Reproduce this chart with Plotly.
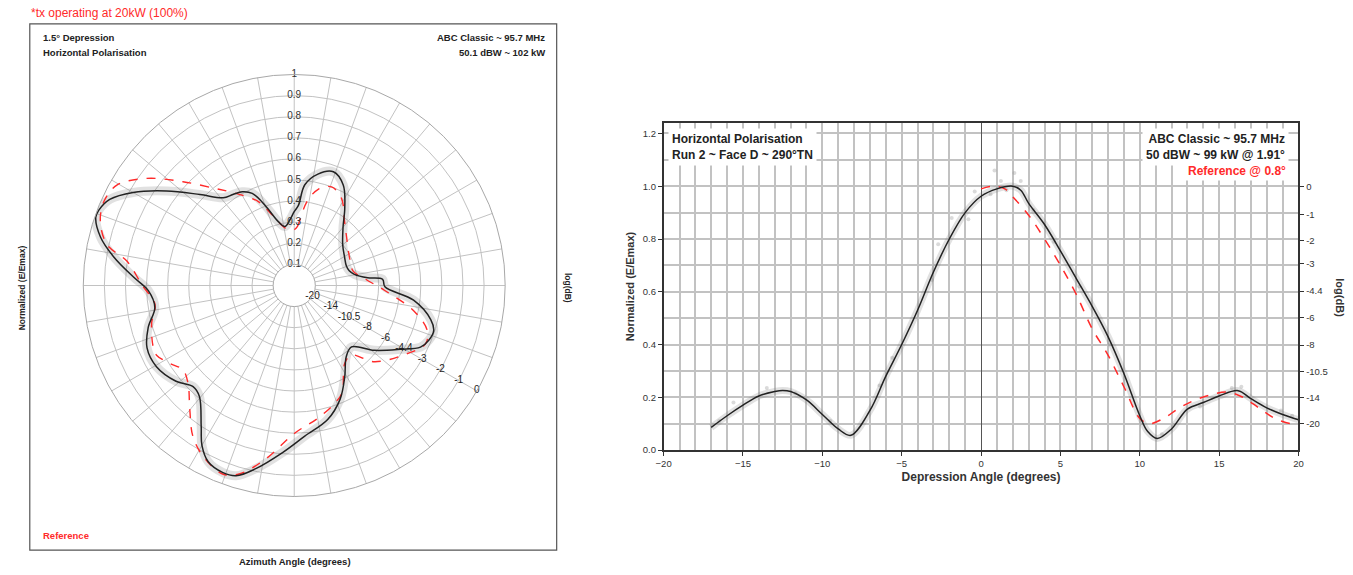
import plotly.graph_objects as go

# ---------------- Azimuth pattern (polar) ----------------
az_meas_theta = [0, 3, 6, 12, 19, 26, 33, 40, 50, 60, 69.5, 75, 79.5, 84, 86, 90.8, 97, 104, 108, 112,
                 116, 121, 129, 137, 144, 151, 158, 166, 176, 184, 192, 197, 201, 206, 210, 213.5,
                 220.5, 225, 231, 239.5, 247, 254, 261, 268, 273, 279, 284, 289, 291, 295, 300,
                 306.5, 314, 321, 326, 331, 335.5, 340, 346, 351, 356]
az_meas_r = [0.35, 0.38, 0.48, 0.54, 0.57, 0.53, 0.44, 0.36, 0.30, 0.275, 0.264, 0.27, 0.29, 0.35, 0.42, 0.43,
             0.57, 0.667, 0.695, 0.689, 0.666, 0.587, 0.488, 0.398, 0.419, 0.494, 0.581, 0.655, 0.716,
             0.794, 0.889, 0.943, 0.949, 0.930, 0.875, 0.799, 0.692, 0.678, 0.721, 0.758, 0.758, 0.72,
             0.669, 0.692, 0.763, 0.866, 0.946, 0.995, 0.993, 0.965, 0.882, 0.753, 0.621, 0.535, 0.52,
             0.508, 0.480, 0.405, 0.312, 0.283, 0.31]

az_ref_theta = [0, 3, 8.5, 14, 20.7, 28.5, 38, 48, 63, 76, 85, 93, 102, 108.6, 114, 121, 133.5, 140.6,
                147, 156, 161, 170, 179.6, 189.4, 196.3, 200.8, 208.2, 214, 220, 227.4, 232.8, 238,
                243, 246.5, 255, 262.4, 270, 278.3, 282.3, 288.3, 293.8, 299.5, 306, 313, 321, 327.6,
                337, 342.6, 351, 356]
az_ref_r = [0.265, 0.28, 0.40, 0.47, 0.50, 0.47, 0.387, 0.335, 0.294, 0.287, 0.34, 0.428, 0.58, 0.665,
            0.681, 0.626, 0.525, 0.427, 0.44, 0.557, 0.59, 0.64, 0.698, 0.834, 0.931, 0.956, 0.917,
            0.86, 0.77, 0.684, 0.662, 0.696, 0.731, 0.729, 0.70, 0.666, 0.72, 0.802, 0.908, 0.968,
            0.986, 0.966, 0.864, 0.721, 0.591, 0.517, 0.431, 0.351, 0.276, 0.265]

ring_values = [0.1, 0.2, 0.3, 0.4, 0.5, 0.6, 0.7, 0.8, 0.9, 1.0]
ring_labels = ["0.1", "0.2", "0.3", "0.4", "0.5", "0.6", "0.7", "0.8", "0.9", "1"]
ring_db_labels = ["-20", "-14", "-10.5", "-8", "-6", "-4.4", "-3", "-2", "-1", "0"]

# ---------------- Elevation pattern (cartesian) ----------------
el_meas_deg = [-17, -16, -15, -14, -13, -12.5, -12, -11, -10, -9, -8.2, -7, -6, -5, -4, -3, -2, -1, 0,
               1, 2, 2.5, 3, 4, 5, 6, 7, 8, 9, 10, 10.5, 11.1, 12, 13, 14, 15, 16.2, 17, 18, 19, 20]
el_meas_val = [0.086, 0.13, 0.17, 0.205, 0.222, 0.226, 0.222, 0.19, 0.135, 0.08, 0.056, 0.15, 0.28,
               0.40, 0.53, 0.675, 0.80, 0.90, 0.962, 0.99, 1.0, 0.985, 0.935, 0.855, 0.755, 0.65,
               0.545, 0.43, 0.29, 0.13, 0.07, 0.044, 0.08, 0.155, 0.18, 0.205, 0.225, 0.195, 0.16,
               0.135, 0.115]

el_ref_deg = [0, 0.8, 1.5, 2, 3, 4, 5, 6, 7, 8, 9, 10, 10.6, 11.5, 12.5, 13.5, 14.5, 15.5, 16.5, 17.5,
              18.5, 19.5, 20]
el_ref_val = [0.99, 1.0, 0.99, 0.96, 0.89, 0.80, 0.70, 0.59, 0.46, 0.36, 0.24, 0.12, 0.10, 0.12,
              0.16, 0.19, 0.21, 0.22, 0.20, 0.16, 0.12, 0.10, 0.10]

el_samples_deg = [0.85, 2.1, 2.5, 1.25, -1.85, -0.8, -2.7, -3.1, 0.6, -0.4, 1.6, 3.3, 4.6, 6.2, 8.1,
                  -5.6, -6.4, -9.5, -13.5, -15.6, -11.7, 11.4, 13.8, 15.8, 16.4, 18.9, 19.6, -16.5]
el_samples_val = [1.06, 1.05, 1.02, 1.02, 0.88, 0.875, 0.78, 0.645, 0.97, 0.98, 0.985, 0.91, 0.79,
                  0.62, 0.40, 0.35, 0.245, 0.11, 0.235, 0.18, 0.215, 0.06, 0.165, 0.235, 0.24, 0.15,
                  0.13, 0.11]

db_ticks = [0, -1, -2, -3, -4.4, -6, -8, -10.5, -14, -20]
db_tick_text = ["0", "-1", "-2", "-3", "-4.4", "-6", "-8", "-10.5", "-14", "-20"]

W, H = 1353, 575
FONT = "Liberation Sans"
GRID = "#c2c2c2"
RED = "#ff2a2a"
INK = "#222222"


def px(x):
    return x / W


def py(y):
    return 1 - y / H


def closed(seq, offset=0):
    return list(seq) + [seq[0] + offset]


fig = go.Figure()

# haze of measured samples under the azimuth trace
fig.add_trace(go.Scatterpolar(
    r=closed(az_meas_r), theta=closed(az_meas_theta, 360), mode="lines",
    line=dict(color="rgba(120,120,120,0.22)", width=9, shape="spline"),
    hoverinfo="skip", showlegend=False, subplot="polar"))
fig.add_trace(go.Scatterpolar(
    r=closed(az_ref_r), theta=closed(az_ref_theta, 360), mode="lines",
    line=dict(color=RED, width=1.4, dash="dash", shape="spline"),
    showlegend=False, subplot="polar"))
fig.add_trace(go.Scatterpolar(
    r=closed(az_meas_r), theta=closed(az_meas_theta, 360), mode="lines",
    line=dict(color=INK, width=1.5, shape="spline"),
    showlegend=False, subplot="polar"))
# ring labels along north and the dB equivalents along 120 deg
fig.add_trace(go.Scatterpolar(
    r=ring_values, theta=[0] * len(ring_values), mode="text", text=ring_labels,
    textfont=dict(family=FONT, size=10, color="#333"), showlegend=False, subplot="polar"))
fig.add_trace(go.Scatterpolar(
    r=ring_values, theta=[120] * len(ring_values), mode="text", text=ring_db_labels,
    textfont=dict(family=FONT, size=10, color="#222"), showlegend=False, subplot="polar"))

# ---------------- elevation traces ----------------
fig.add_trace(go.Scatter(
    x=el_samples_deg, y=el_samples_val, mode="markers",
    marker=dict(color="rgba(150,150,150,0.35)", size=4),
    hoverinfo="skip", showlegend=False, xaxis="x", yaxis="y"))
fig.add_trace(go.Scatter(
    x=el_meas_deg, y=el_meas_val, mode="lines",
    line=dict(color="rgba(120,120,120,0.22)", width=7, shape="spline"),
    hoverinfo="skip", showlegend=False, xaxis="x", yaxis="y"))
fig.add_trace(go.Scatter(
    x=el_ref_deg, y=el_ref_val, mode="lines",
    line=dict(color=RED, width=1.5, dash="dash", shape="spline"),
    showlegend=False, xaxis="x", yaxis="y"))
fig.add_trace(go.Scatter(
    x=el_meas_deg, y=el_meas_val, mode="lines",
    line=dict(color=INK, width=1.5, shape="spline"),
    showlegend=False, xaxis="x", yaxis="y"))
# invisible trace that activates the dB axis on the right
fig.add_trace(go.Scatter(x=[-20], y=[0], mode="markers", marker=dict(opacity=0),
                         hoverinfo="skip", showlegend=False, xaxis="x", yaxis="y2"))

db_positions = [10 ** (d / 20) for d in db_ticks]
tickfont = dict(family=FONT, size=9.5, color="#333")

fig.update_layout(
    width=W, height=H,
    margin=dict(l=0, r=0, t=0, b=0),
    paper_bgcolor="white", plot_bgcolor="white",
    font=dict(family=FONT, color=INK),
    polar=dict(
        domain=dict(x=[px(76), px(502)], y=[py(501), py(75)]),
        hole=0.1,
        bgcolor="white",
        angularaxis=dict(direction="clockwise", rotation=90, tickmode="array",
                         tickvals=list(range(0, 360, 10)), showticklabels=False, ticks="",
                         gridcolor=GRID, gridwidth=1, linecolor="#a8a8a8", linewidth=1),
        radialaxis=dict(range=[0.1, 1.0], tickmode="array", tickvals=ring_values,
                        showticklabels=False, ticks="", showline=False,
                        gridcolor=GRID, gridwidth=1),
    ),
    xaxis=dict(domain=[px(662), px(1303)], range=[-20, 20], tickmode="linear", tick0=-20, dtick=5,
               showgrid=True, gridcolor=GRID, gridwidth=1.5,
               minor=dict(dtick=1, showgrid=True, gridcolor=GRID, gridwidth=1.5),
               zeroline=True, zerolinecolor="#555", zerolinewidth=1,
               showline=True, linecolor="#333", linewidth=1.5, mirror=True,
               ticks="outside", ticklen=4, tickcolor="#333", tickfont=tickfont,
               title=dict(text="<b>Depression Angle (degrees)</b>", font=dict(size=12, color="#333"),
                          standoff=4)),
    yaxis=dict(domain=[py(454), py(124)], range=[0, 1.24], tickmode="linear", tick0=0, dtick=0.2,
               tickformat=".1f", showgrid=True, gridcolor=GRID, gridwidth=1.5,
               minor=dict(dtick=0.1, showgrid=True, gridcolor=GRID, gridwidth=1.5),
               zeroline=False, showline=True, linecolor="#333", linewidth=1.5,
               ticks="outside", ticklen=4, tickcolor="#333", tickfont=tickfont,
               title=dict(text="<b>Normalized (E/Emax)</b>", font=dict(size=11, color="#333"),
                          standoff=6)),
    yaxis2=dict(overlaying="y", side="right", anchor="x", range=[0, 1.24], tickmode="array",
                tickvals=db_positions, ticktext=db_tick_text, showgrid=False, zeroline=False,
                showline=True, linecolor="#333", linewidth=1.5,
                ticks="outside", ticklen=4, tickcolor="#333", tickfont=tickfont),
    shapes=[
        dict(type="rect", xref="paper", yref="paper", x0=px(22), x1=px(554), y0=py(555), y1=py(24),
             line=dict(color="#555", width=1.2), fillcolor="rgba(0,0,0,0)"),
    ],
)

ann = []


def note(text, x, y, xanchor="left", yanchor="middle", size=10, color=INK, textangle=0, **kw):
    ann.append(dict(text=text, x=px(x), y=py(y), xref="paper", yref="paper", xanchor=xanchor,
                    yanchor=yanchor, showarrow=False, textangle=textangle,
                    font=dict(family=FONT, size=size, color=color), **kw))


# azimuth panel text
note("*tx operating at 20kW (100%)", 21, 13, size=12, color=RED)
note("<b>1.5° Depression</b>", 33, 38, size=9.5)
note("<b>Horizontal Polarisation</b>", 33, 53, size=9.5)
note("<b>ABC Classic ~ 95.7 MHz</b>", 544, 38, xanchor="right", size=9.5)
note("<b>50.1 dBW ~ 102 kW</b>", 544, 53, xanchor="right", size=9.5)
note("<b>Reference</b>", 33, 540, size=9.5, color=RED)
note("<b>Azimuth Angle (degrees)</b>", 290, 566, xanchor="center", size=9.5)
note("<b>Normalized (E/Emax)</b>", 15, 290, xanchor="center", size=8.5, textangle=-90)
note("<b>log(dB)</b>", 565, 290, xanchor="center", size=8.5, textangle=90)

# elevation panel text
note("<b>Horizontal Polarisation</b><br><b>Run 2 ~ Face D ~ 290°TN</b>", 666, 148, size=12,
     bgcolor="white", borderpad=3, align="left")
note("<b>ABC Classic ~ 95.7 MHz</b><br><b>50 dBW ~ 99 kW @ 1.91°</b>", 1293, 148,
     xanchor="right", size=12, bgcolor="white", borderpad=3, align="right")
note("<b>Reference @ 0.8°</b>", 1293, 172, xanchor="right", size=12, color=RED,
     bgcolor="white", borderpad=2)
note("<b>log(dB)</b>", 1345, 300, xanchor="center", size=11, color="#333", textangle=90)

fig.update_layout(annotations=ann)

fig.write_html("out.html")
